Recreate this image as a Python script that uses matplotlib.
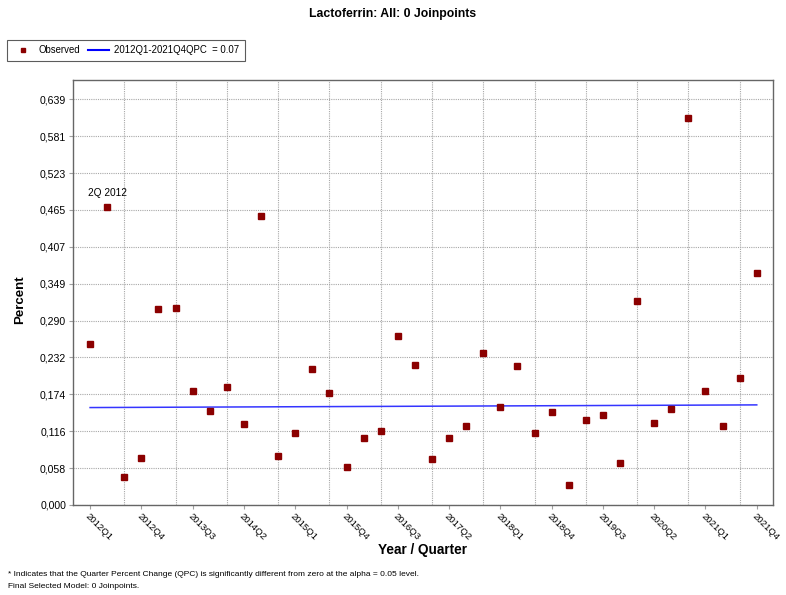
import numpy as np
import matplotlib
matplotlib.use("Agg")
import matplotlib.pyplot as plt
from matplotlib.lines import Line2D

# ---------------------------------------------------------------------------
# Data (Lactoferrin, 2012Q1 - 2021Q4)

years = list(range(2012, 2022))
quarters = [f"{y}Q{q}" for y in years for q in range(1, 5)]

observed = [0.254, 0.470, 0.044, 0.074, 0.308, 0.310, 0.180, 0.148, 0.186, 0.128,
            0.455, 0.077, 0.113, 0.214, 0.177, 0.060, 0.106, 0.117, 0.266, 0.221,
            0.072, 0.106, 0.125, 0.239, 0.154, 0.219, 0.113, 0.146, 0.032, 0.134,
            0.142, 0.066, 0.321, 0.129, 0.151, 0.610, 0.180, 0.124, 0.200, 0.365]

# fitted model (0 joinpoints), value at first and last quarter
trend_start = 0.1535
trend_end = 0.1577

ytick_labels = ["0,000", "0,058", "0,116", "0,174", "0,232", "0,290",
                "0,349", "0,407", "0,465", "0,523", "0,581", "0,639"]

title = "Lactoferrin: All: 0 Joinpoints"
legend_obs = "Observed"
legend_fit = "2012Q1-2021Q4QPC  = 0.07"
annot_text = "2Q 2012"
foot1 = ("* Indicates that the Quarter Percent Change (QPC) is significantly "
         "different from zero at the alpha = 0.05 level.")
foot2 = "Final Selected Model: 0 Joinpoints."

# ---------------------------------------------------------------------------
plt.rcParams['font.family'] = ['Liberation Sans', 'DejaVu Sans']

fig = plt.figure(figsize=(7.86, 5.95), dpi=100)
ax = fig.add_axes([73/786, 1-505/595, 700/786, 425/595])

x = np.arange(len(quarters))
red = "#8B0000"
ax.plot(x, observed, ls="none", marker="s", ms=4.3, color=red, mec=red, zorder=3)
ax.plot([0, len(quarters)-1], [trend_start, trend_end], color="#3535ff", lw=1.1, zorder=2)

ax.annotate(annot_text, (1, observed[1]), xytext=(0, 6), textcoords="offset points",
            ha="center", va="bottom", fontsize=7.3)

ax.set_xlim(-1.0, 39.95)
ax.set_ylim(0, 0.6695)

yt = np.linspace(0, 0.639, 12)
ax.set_yticks(yt)
ax.set_yticklabels(ytick_labels, fontsize=7.6)

lab_idx = list(range(0, len(quarters), 3))
ax.set_xticks(lab_idx)
ax.set_xticklabels([quarters[i] for i in lab_idx], rotation=-45, ha="left", va="top",
                   rotation_mode="anchor", fontsize=6.8)
ax.set_xticks(list(range(2, len(quarters), 3)), minor=True)

ax.tick_params(axis="both", which="major", length=3, color="#a0a0a0", pad=2)
ax.tick_params(axis="x", which="minor", length=0)
ax.grid(axis="y", which="major", ls=(0, (1, 1)), color="#a8a8a8", lw=0.8)
ax.grid(axis="x", which="minor", ls=(0, (1, 1)), color="#a8a8a8", lw=0.8)
ax.set_axisbelow(True)
for s in ax.spines.values():
    s.set_color("#666666")
    s.set_linewidth(1.0)

fig.text(0.5, 1-14/595, title, ha="center", va="center", fontsize=8.8, fontweight="bold")
fig.text(20/786, 1-300/595, "Percent", ha="center", va="center", rotation=90,
         fontsize=9.5, fontweight="bold")
fig.text(423/786, 1-550/595, "Year / Quarter", ha="center", va="center",
         fontsize=9.8, fontweight="bold")
fig.text(8/786, 1-575/595, foot1, ha="left", va="center", fontsize=6.0)
fig.text(8/786, 1-586/595, foot2, ha="left", va="center", fontsize=6.0)

handles = [Line2D([], [], ls="none", marker="s", ms=3.5, color=red),
           Line2D([], [], color="blue", lw=1.5)]
leg = fig.legend(handles, [legend_obs, legend_fit], loc="upper left",
                 bbox_to_anchor=(7/786, 1-40/595), borderaxespad=0, ncol=2,
                 fontsize=6.9, frameon=True, fancybox=False, borderpad=0.55,
                 handlelength=2.2, columnspacing=0.9, handletextpad=0.5)
leg.get_frame().set_edgecolor("#333333")
leg.get_frame().set_linewidth(0.8)

fig.savefig("out.png", dpi=100)
